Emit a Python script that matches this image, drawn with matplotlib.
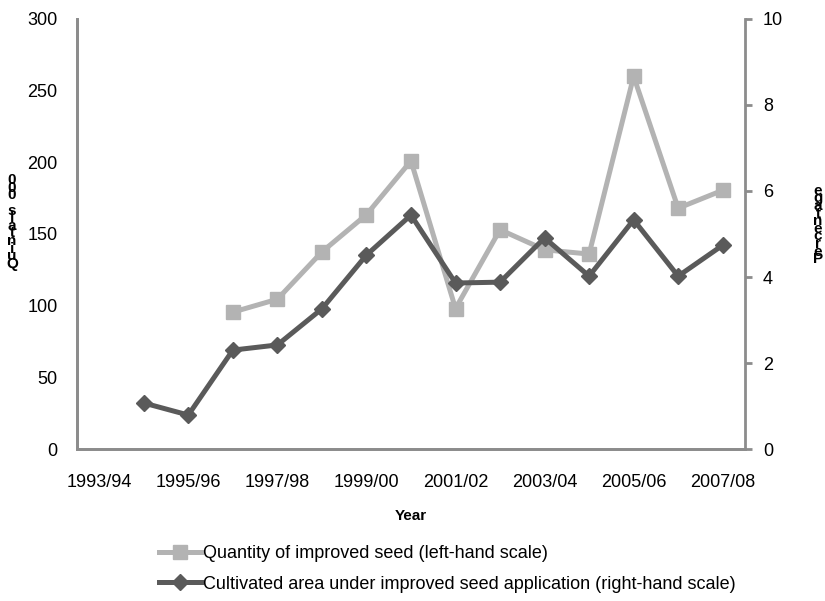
import numpy as np
import matplotlib.pyplot as plt
from matplotlib.lines import Line2D

plt.rcParams['font.family'] = ['Liberation Sans', 'DejaVu Sans']

# crop years on the category axis
years = ['1993/94', '1994/95', '1995/96', '1996/97', '1997/98', '1998/99',
         '1999/00', '2000/01', '2001/02', '2002/03', '2003/04', '2004/05',
         '2005/06', '2006/07', '2007/08']

# quantity of improved seed, '000 quintals (left scale)
seed_qty = [np.nan, np.nan, np.nan, 95.5, 104.5, 137.5, 163.5, 201,
            98, 153, 139, 136, 260, 168, 180.5]

# cultivated area under improved seed, percent (right scale)
area_pct = [np.nan, 1.07, 0.79, 2.30, 2.42, 3.26, 4.51, 5.44,
            3.86, 3.88, 4.91, 4.02, 5.33, 4.02, 4.74]

light = '#b3b3b3'
dark = '#5a5a5a'
spine_col = '#8c8c8c'

fig = plt.figure(figsize=(8.25, 6.01), dpi=100)
ax = fig.add_axes([0.0933, 0.2529, 0.8097, 0.7155])
ax2 = ax.twinx()

x = np.arange(len(years))
ax.plot(x, seed_qty, color=light, lw=3.6, marker='s', ms=10, zorder=3)
ax2.plot(x, area_pct, color=dark, lw=3.6, marker='D', ms=8.5, zorder=3)

ax.set_xlim(-0.5, len(years) - 0.5)
ax.set_ylim(0, 300)
ax.set_yticks(range(0, 301, 50))
ax2.set_ylim(0, 10)
ax2.set_yticks(range(0, 11, 2))

ax.set_xticks(x[::2])
ax.set_xticklabels(years[::2])

for a in (ax, ax2):
    a.spines['top'].set_visible(False)
    for s in ('left', 'right', 'bottom'):
        a.spines[s].set_color(spine_col)
        a.spines[s].set_linewidth(2)
ax.spines['right'].set_visible(False)

ax.tick_params(axis='y', length=0, pad=14, labelsize=13)
ax.tick_params(axis='x', length=0, pad=18, labelsize=13)
ax2.tick_params(axis='y', length=5, width=2, color=spine_col, pad=8, labelsize=13)

ax.set_xlabel('Year', fontweight='bold', fontsize=11, labelpad=13)

# stacked axis titles
fig.text(12 / 825, 1 - 222 / 601, '\n'.join('Quintals 000'[::-1]),
         ha='center', va='center', fontsize=11, fontweight='bold', linespacing=0.42)
fig.text(818 / 825, 1 - 225 / 601, '\n'.join('Percentage'[::-1]),
         ha='center', va='center', fontsize=11, fontweight='bold', linespacing=0.42)

handles = [
    Line2D([], [], color=light, lw=3.6, marker='s', ms=10),
    Line2D([], [], color=dark, lw=3.6, marker='D', ms=8.5),
]
labels = ['Quantity of improved seed (left-hand scale)',
          'Cultivated area under improved seed application (right-hand scale)']
fig.legend(handles, labels, loc='upper left', bbox_to_anchor=(0.182, 0.108),
           frameon=False, fontsize=13, handlelength=2.3, handletextpad=0.15,
           labelspacing=0.75, borderpad=0)

fig.savefig('out.png', dpi=100)
